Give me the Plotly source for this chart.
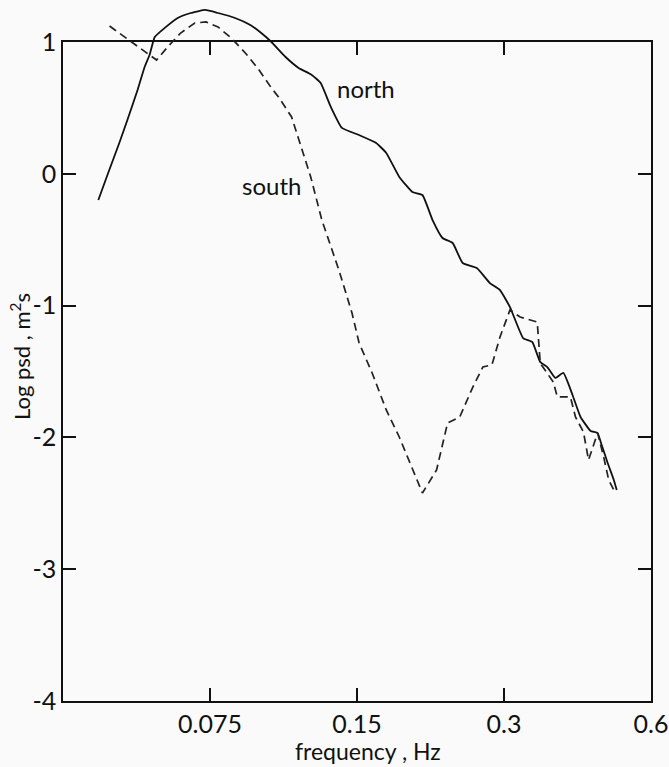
import numpy as np
import plotly.graph_objects as go

# ---- data ----
north_f = [0.0443, 0.0464, 0.0489, 0.0508, 0.0533, 0.0551, 0.0564, 0.0578, 0.0606, 0.0644,
           0.0685, 0.0733, 0.0779, 0.0844, 0.0907, 0.0955, 0.1002, 0.1071, 0.1139, 0.1212,
           0.1264, 0.1326, 0.1397, 0.1515, 0.1642, 0.1722, 0.1831, 0.1948, 0.2042, 0.2142,
           0.2245, 0.2355, 0.2469, 0.2639, 0.2807, 0.2944, 0.3086, 0.3283, 0.3427, 0.3559,
           0.3680, 0.3821, 0.3969, 0.4144, 0.4304, 0.4513, 0.4665, 0.4733, 0.4891, 0.5035,
           0.5105]
north_psd = [-0.199, 0.006, 0.234, 0.408, 0.636, 0.810, 0.901, 1.038, 1.107, 1.182,
             1.220, 1.243, 1.220, 1.182, 1.129, 1.068, 1.000, 0.886, 0.803, 0.750,
             0.689, 0.507, 0.348, 0.294, 0.234, 0.158, -0.024, -0.138, -0.161, -0.351,
             -0.487, -0.525, -0.677, -0.715, -0.829, -0.882, -1.011, -1.246, -1.276, -1.428,
             -1.466, -1.549, -1.511, -1.678, -1.845, -1.951, -1.967, -2.035, -2.194, -2.323,
             -2.399]

south_f = [0.0467, 0.0501, 0.0541, 0.0583, 0.0614, 0.0653, 0.0698, 0.0736, 0.0779, 0.0829,
           0.0886, 0.0942, 0.1002, 0.1036, 0.1102, 0.1155, 0.1206, 0.1271, 0.1377, 0.1465,
           0.1515, 0.1611, 0.1722, 0.1831, 0.2042, 0.2183, 0.2299, 0.2435, 0.2590, 0.2715,
           0.2834, 0.2944, 0.3086, 0.3237, 0.3509, 0.3559, 0.3785, 0.3858, 0.4104, 0.4202,
           0.4364, 0.4469, 0.4665, 0.4800, 0.4915, 0.5035]
south_psd = [1.121, 1.038, 0.954, 0.863, 0.962, 1.068, 1.144, 1.152, 1.114, 1.030,
             0.917, 0.795, 0.651, 0.583, 0.431, 0.203, -0.024, -0.351, -0.730, -1.056,
             -1.284, -1.511, -1.792, -1.997, -2.422, -2.247, -1.891, -1.845, -1.618, -1.466,
             -1.450, -1.238, -1.033, -1.087, -1.125, -1.436, -1.580, -1.693, -1.693, -1.845,
             -1.959, -2.171, -1.967, -2.149, -2.323, -2.399]

x_tickvals = [0.075, 0.15, 0.3, 0.6]
x_ticktext = ["0.075", "0.15", "0.3", "0.6"]
y_tickvals = [-4, -3, -2, -1, 0, 1]
y_ticktext = ["-4", "-3", "-2", "-1", "0", "1"]

labels = ["north", "south"]
label_f = [0.1565, 0.1002]
label_psd = [0.651, -0.085]

# ---- layout geometry ----
W, H = 669, 767
ml, mr, mb, mt = 63, 18, 66, 2
plot_h = H - mb - mt
frame_top_px = 42
frame_frac = (H - mb - frame_top_px) / plot_h
y_lo, y_hi_frame = -4, 1
y_hi_data = y_lo + (y_hi_frame - y_lo) / frame_frac
x_range = [np.log10(0.0375), np.log10(0.6)]

FONT = "Lato, 'Open Sans', sans-serif"
BG = "#f9faf9"

fig = go.Figure()

# invisible trace so the framed subplot (x, y) is created
fig.add_trace(go.Scatter(x=[0.1], y=[0], mode="markers", xaxis="x", yaxis="y",
                         marker=dict(opacity=0), hoverinfo="skip", showlegend=False))

fig.add_trace(go.Scatter(x=north_f, y=north_psd, mode="lines", xaxis="x2", yaxis="y2",
                         line=dict(color="#111111", width=1.8, shape="spline", smoothing=0.4),
                         showlegend=False))
fig.add_trace(go.Scatter(x=south_f, y=south_psd, mode="lines", xaxis="x2", yaxis="y2",
                         line=dict(color="#222222", width=1.7, dash="8px,5px"), showlegend=False))

for t, fx, fy in zip(labels, label_f, label_psd):
    fig.add_annotation(x=np.log10(fx), y=fy, xref="x2", yref="y2", text=t, showarrow=False,
                       font=dict(family=FONT, size=24, color="#111111"))

axis_common = dict(showgrid=False, zeroline=False, showline=True, linecolor="#111111",
                   linewidth=1.5, ticks="inside", ticklen=13, tickwidth=1.5,
                   tickcolor="#111111", mirror="ticks", automargin=False,
                   tickfont=dict(family=FONT, size=25, color="#111111"))

fig.update_layout(
    width=W, height=H,
    margin=dict(l=ml, r=mr, t=mt, b=mb, autoexpand=False),
    paper_bgcolor=BG, plot_bgcolor="rgba(0,0,0,0)",
    xaxis=dict(type="log", range=x_range, domain=[0, 1], anchor="y",
               tickmode="array", tickvals=x_tickvals, ticktext=x_ticktext, **axis_common),
    yaxis=dict(range=[y_lo, y_hi_frame], domain=[0, frame_frac], anchor="x",
               tickmode="array", tickvals=y_tickvals, ticktext=y_ticktext, **axis_common),
    xaxis2=dict(type="log", range=x_range, domain=[0, 1], anchor="y2", visible=False,
                automargin=False),
    yaxis2=dict(range=[y_lo, y_hi_data], domain=[0, 1], anchor="x2", visible=False,
                automargin=False),
)

fig.add_annotation(text="frequency , Hz", xref="paper", yref="paper",
                   x=(368 - ml) / (W - ml - mr), y=(H - mb - 751) / plot_h,
                   showarrow=False, xanchor="center", yanchor="middle",
                   font=dict(family=FONT, size=23, color="#111111"))
fig.add_annotation(text="Log psd , m<sup>2</sup>s", xref="paper", yref="paper",
                   x=(20 - ml) / (W - ml - mr), y=(H - mb - 357) / plot_h,
                   showarrow=False, textangle=-90, xanchor="center", yanchor="middle",
                   font=dict(family=FONT, size=22, color="#111111"))

fig.write_html("out.html")
